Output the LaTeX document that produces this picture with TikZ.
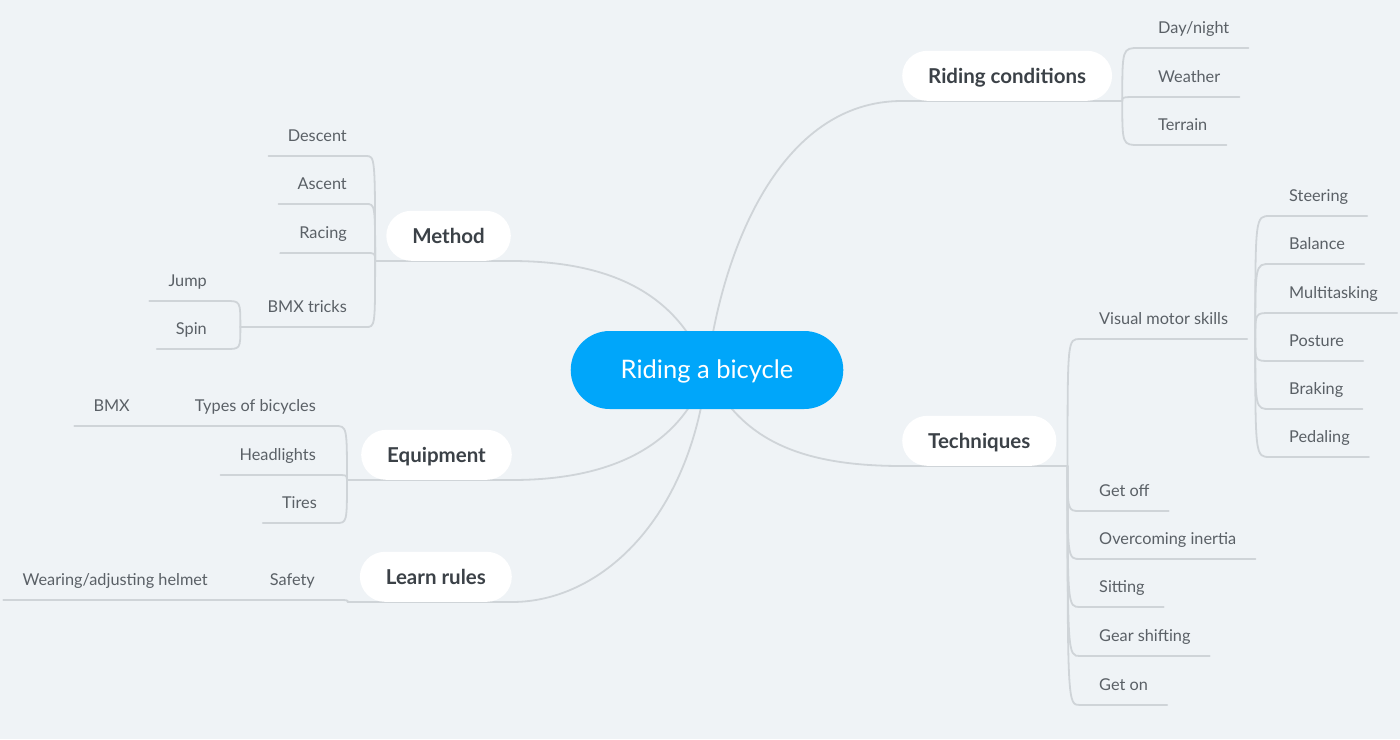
\documentclass[tikz,border=0pt]{standalone}
\usepackage{fontspec}
\setmainfont{Lato}

\pgfdeclarelayer{background}
\pgfdeclarelayer{lines}
\pgfsetlayers{background,lines,main}

\definecolor{paper}{HTML}{EFF3F6}
\definecolor{linegray}{HTML}{CFD4D8}
\definecolor{rootblue}{HTML}{00A6FA}
\definecolor{topictext}{HTML}{3B4147}
\definecolor{leaftext}{HTML}{5A6066}

\begin{document}
\begin{tikzpicture}[x=1pt, y=-1pt,
    rootnode/.style={fill=rootblue, text=white, rounded corners=39pt, minimum height=78pt,
        inner xsep=50pt, text height=17pt, text depth=0pt, font=\fontsize{25.5}{30}\selectfont},
    topic/.style={fill=white, text=topictext, rounded corners=25pt, minimum height=50pt,
        inner xsep=26pt, text height=15pt, text depth=0pt, font=\fontsize{20.5}{24}\selectfont\bfseries},
    leaf/.style={text=leaftext, inner xsep=19pt, inner ysep=11pt, text height=11pt, text depth=3pt,
        font=\fontsize{16.3}{19}\selectfont},
    conn/.style={draw=linegray, line width=1.8pt, line cap=round}]

    \begin{pgfonlayer}{background}
        \fill[paper] (0,0) rectangle (1400,739);
    \end{pgfonlayer}
    \useasboundingbox (0,0) rectangle (1400,739);

    % Draw nodes
    \node[rootnode] (root) at (707,370) {Riding a bicycle};

    \node[topic, anchor=south west] (cond) at (902,101) {Riding conditions};
    \node[topic, anchor=south east] (method) at (511,261) {Method};
    \node[topic, anchor=south east] (equip) at (512,480) {Equipment};
    \node[topic, anchor=south east] (rules) at (512,602) {Learn rules};
    \node[topic, anchor=south west] (tech) at (902,466) {Techniques};

    \coordinate (condfork) at ([xshift=10pt]cond.south east);
    \coordinate (methodfork) at ([xshift=-11pt]method.south west);
    \coordinate (equipfork) at ([xshift=-14pt]equip.south west);
    \coordinate (rulesfork) at ([xshift=-12pt]rules.south west);
    \coordinate (techfork) at ([xshift=11pt]tech.south east);

    % Riding conditions
    \node[leaf, anchor=south west] (daynight) at (1139,48) {Day/night};
    \node[leaf, anchor=south west] (weather) at (1139,97) {Weather};
    \node[leaf, anchor=south west] (terrain) at (1139,145) {Terrain};

    % Method
    \node[leaf, anchor=south east] (descent) at (366,156) {Descent};
    \node[leaf, anchor=south east] (ascent) at (366,204) {Ascent};
    \node[leaf, anchor=south east] (racing) at (366,253) {Racing};
    \node[leaf, anchor=south east] (bmxtricks) at (366,327) {BMX tricks};
    \coordinate (tricksfork) at ([xshift=-8pt]bmxtricks.south west);
    \node[leaf, anchor=south east] (jump) at (226,301) {Jump};
    \node[leaf, anchor=south east] (spin) at (226,349) {Spin};

    % Equipment
    \node[leaf, anchor=south east] (types) at (335,426) {Types of bicycles};
    \node[leaf, anchor=south east] (bmx) at (149,426) {BMX};
    \node[leaf, anchor=south east] (headlights) at (335,475) {Headlights};
    \node[leaf, anchor=south east] (tires) at (336,523) {Tires};

    % Learn rules
    \node[leaf, anchor=south east] (safety) at (334,600) {Safety};
    \node[leaf, anchor=south east] (helmet) at (227,600) {Wearing/adjusting helmet};

    % Techniques
    \node[leaf, anchor=south west] (visual) at (1080,339) {Visual motor skills};
    \coordinate (visualfork) at ([xshift=8pt]visual.south east);
    \node[leaf, anchor=south west] (steering) at (1270,216) {Steering};
    \node[leaf, anchor=south west] (balance) at (1270,264) {Balance};
    \node[leaf, anchor=south west] (multi) at (1270,313) {Multitasking};
    \node[leaf, anchor=south west] (posture) at (1270,361) {Posture};
    \node[leaf, anchor=south west] (braking) at (1270,409) {Braking};
    \node[leaf, anchor=south west] (pedaling) at (1270,457) {Pedaling};
    \node[leaf, anchor=south west] (getoff) at (1080,511) {Get off};
    \node[leaf, anchor=south west] (inertia) at (1080,559) {Overcoming inertia};
    \node[leaf, anchor=south west] (sitting) at (1080,607) {Sitting};
    \node[leaf, anchor=south west] (gear) at (1080,656) {Gear shifting};
    \node[leaf, anchor=south west] (geton) at (1080,705) {Get on};

    % Draw connections
    \begin{pgfonlayer}{lines}
    \draw[conn] (root.center) .. controls (722,250) and (780,101) .. (cond.south west) -- (condfork);
    \draw[conn] (root.center) .. controls (680,300) and (620,261) .. (method.south east) -- (methodfork);
    \draw[conn] (root.center) .. controls (684,440) and (620,480) .. (equip.south east) -- (equipfork);
    \draw[conn] (root.center) .. controls (690,520) and (600,602) .. (rules.south east) -- (rulesfork);
    \draw[conn] (root.center) .. controls (740,440) and (800,466) .. (tech.south west) -- (techfork);

    \foreach \leafname in {daynight, weather, terrain}
        \draw[conn] (condfork) .. controls (condfork |- \leafname.south west) .. (\leafname.south west) -- (\leafname.south east);
    \foreach \leafname in {descent, ascent, racing, bmxtricks}
        \draw[conn] (methodfork) .. controls (methodfork |- \leafname.south east) .. (\leafname.south east) -- (\leafname.south west);
    \foreach \leafname in {jump, spin}
        \draw[conn] (tricksfork) .. controls (tricksfork |- \leafname.south east) .. (\leafname.south east) -- (\leafname.south west);
    \draw[conn] (bmxtricks.south west) -- (tricksfork);
    \foreach \leafname in {types, headlights, tires}
        \draw[conn] (equipfork) .. controls (equipfork |- \leafname.south east) .. (\leafname.south east) -- (\leafname.south west);
    \draw[conn] (types.south west) -- (bmx.south east) -- (bmx.south west);
    \draw[conn] (rulesfork) .. controls (rulesfork |- safety.south east) .. (safety.south east) -- (safety.south west);
    \draw[conn] (safety.south west) -- (helmet.south east) -- (helmet.south west);
    \foreach \leafname in {visual, getoff, inertia, sitting, gear, geton}
        \draw[conn] (techfork) .. controls (techfork |- \leafname.south west) .. (\leafname.south west) -- (\leafname.south east);
    \foreach \leafname in {steering, balance, multi, posture, braking, pedaling}
        \draw[conn] (visualfork) .. controls (visualfork |- \leafname.south west) .. (\leafname.south west) -- (\leafname.south east);
    \end{pgfonlayer}
\end{tikzpicture}
\end{document}
